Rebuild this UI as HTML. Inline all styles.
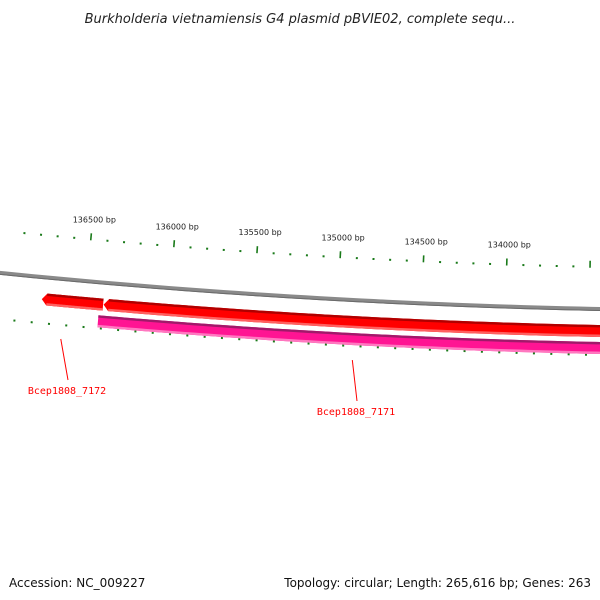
<!DOCTYPE html>
<html><head><meta charset="utf-8">
<style>
html,body{margin:0;padding:0;background:#fff;}
svg{display:block;}
.t{font-family:"DejaVu Sans","Liberation Sans",sans-serif;}
</style></head>
<body>
<svg id="chart" width="600" height="600" viewBox="0 0 600 600">
<text x="300" y="23" text-anchor="middle" class="t" font-size="13" font-style="italic" fill="#222">Burkholderia vietnamiensis G4 plasmid pBVIE02, complete sequ...</text>
<g id="ticksOuter"></g>
<g id="ticksInner"></g>
<g id="backbone"></g>
<g id="genes"></g>
<g id="labels"></g>
<text x="9" y="587" class="t" font-size="12" fill="#111">Accession: NC_009227</text>
<text x="591" y="587" text-anchor="end" class="t" font-size="12" fill="#111">Topology: circular; Length: 265,616 bp; Genes: 263</text>
</svg>
<script>
// data
const tickLabels = [136500, 136000, 135500, 135000, 134500, 134000];
const geneNames = ["Bcep1808_7172", "Bcep1808_7171", "pink-feature"];
const geneStarts = [136393, 133000, 133000];
const geneEnds = [136759, 136390, 136415];
const geneStrand = [-1, -1, 0];
const labelledGenes = ["Bcep1808_7172", "Bcep1808_7171"];
const labelBp = [136625, 134895];

// geometry (circle centre above the view; offsets measured downward from backbone)
const NS = "http://www.w3.org/2000/svg";
const CX = 750, R = 7500, CY = 310.5 - R;
const ANG0 = -0.0885, BP0 = 136500, K = 2.235e-5;
function ang(bp){ return ANG0 + (BP0 - bp) * K; }
// off > 0 means below the backbone
function pt(a, off){ const r = R + off; return [CX + r*Math.sin(a), CY + r*Math.cos(a)]; }
function mk(tag, attrs, parent){ const e=document.createElementNS(NS,tag); for(const k in attrs) e.setAttribute(k,attrs[k]); parent.appendChild(e); return e; }
function arcPts(a1,a2,off){ const n=60, out=[]; for(let i=0;i<=n;i++){ out.push(pt(a1+(a2-a1)*i/n,off)); } return out; }
function polyD(pts){ return 'M'+pts.map(p=>p[0].toFixed(2)+','+p[1].toFixed(2)).join(' L'); }

// backbone
const bb = document.getElementById('backbone');
let e = mk('path',{d:polyD(arcPts(ang(137400),ang(132500),0)),stroke:'#8a8a8a','stroke-width':4,fill:'none'},bb);


e = mk('path',{d:polyD(arcPts(ang(137400),ang(132500),1.5)),stroke:'#6a6a6a','stroke-width':1,fill:'none'},bb);



// outer ticks (above backbone)
const to = document.getElementById('ticksOuter');
for(let bp=136900; bp>=133300; bp-=100){
  const a=ang(bp), major = bp%500===0;
  const p1=pt(a,-41), p2=pt(a, major? -48 : -43);
  e = mk('line',{x1:p1[0],y1:p1[1],x2:p2[0],y2:p2[1],stroke:'#1a7a1a','stroke-width':major?1.6:2},to);
  
  
}
tickLabels.forEach(bp=>{
  const p=pt(ang(bp),-59);
  e = mk('text',{x:p[0]+2,y:p[1],'text-anchor':'middle','font-size':8,fill:'#222',class:'t'},to);
  e.textContent = bp + ' bp';
  
  
});

// inner ticks (below genes)
const ti = document.getElementById('ticksInner');
const IB0 = 136598, IK = 2.3e-5;
for(let bp=137000; bp>=133300; bp-=100){
  const a = ang(IB0) + (IB0-bp)*IK;
  const isMaj = ((IB0-bp)%500)===0;
  const p1=pt(a,45), p2=pt(a, isMaj? 52 : 47);
  e = mk('line',{x1:p1[0],y1:p1[1],x2:p2[0],y2:p2[1],stroke:'#1a7a1a','stroke-width':isMaj?1.6:2},ti);
  
  
}

// genes
const gg = document.getElementById('genes');
const cols = [['#ff0000','#b00000','#ff6060'],['#ff0000','#b00000','#ff6060'],['#ff1493','#a01a6a','#ff78c0']];
const offs = [22, 22, 39];
geneNames.forEach((n,i)=>{
  const oc = offs[i], w = 12, oTop = oc-w/2, oBot = oc+w/2;
  const aS = ang(geneEnds[i]), aE = ang(geneStarts[i]);
  const a1 = aS + (geneStrand[i]<0 ? 5/R : 0);
  let pts = [];
  if(geneStrand[i] < 0) pts.push(pt(aS, oc));
  pts = pts.concat(arcPts(a1,aE,oTop), arcPts(aE,a1,oBot));
  const g = mk('g',{},gg);
  
  
  e = mk('path',{d:polyD(pts)+' Z',fill:cols[i][0]},g);
  
  
  e = mk('path',{d:polyD(arcPts(a1,aE,oTop+1.2)),stroke:cols[i][1],'stroke-width':2.4,fill:'none'},g);
  
  
  e = mk('path',{d:polyD(arcPts(a1,aE,oBot-1.2)),stroke:cols[i][2],'stroke-width':2.4,fill:'none'},g);
  
  
});

// labels
const lg = document.getElementById('labels');
const labelPos = [[67,390],[356,411]];
labelledGenes.forEach((n,i)=>{
  const p1 = pt(ang(labelBp[i]), 60);
  const lx = labelPos[i][0], ly = labelPos[i][1];
  e = mk('line',{x1:p1[0],y1:p1[1],x2:lx+1,y2:ly-10,stroke:'#ff0000','stroke-width':1},lg);
  
  
  e = mk('text',{x:lx,y:ly+4,'text-anchor':'middle','font-size':10,fill:'#ff0000','font-family':'"DejaVu Sans Mono","Liberation Mono",monospace'},lg);
  e.textContent = n;
  
  
});
</script>
</body></html>
